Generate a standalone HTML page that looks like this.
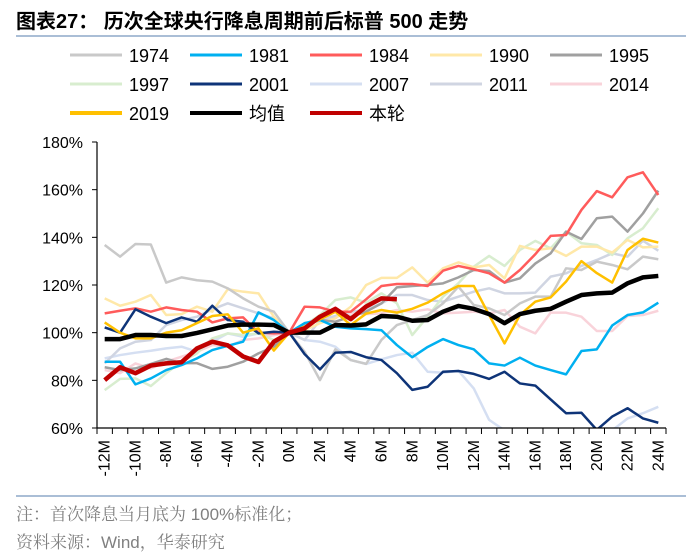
<!DOCTYPE html>
<html><head><meta charset="utf-8"><style>
body{margin:0;background:#fff;width:700px;height:556px;overflow:hidden;font-family:"Liberation Sans","Noto Sans CJK SC",sans-serif}
svg{display:block}
</style></head><body>
<svg id="c" width="700" height="556" xmlns="http://www.w3.org/2000/svg">
<text x="16" y="28" font-size="20" font-weight="bold" fill="#000" font-family="Liberation Sans,Noto Sans CJK SC,sans-serif">图表27：  历次全球央行降息周期前后标普 500 走势</text>
<line x1="16" y1="36" x2="686" y2="36" stroke="#8EA9C8" stroke-width="1.5"/>
<g id="legend"></g>
<g id="plot"></g>
<line x1="16" y1="496" x2="686" y2="496" stroke="#8EA9C8" stroke-width="1.5"/>
<text x="16" y="520" font-size="17" fill="#808080" font-family="Liberation Sans,Noto Serif CJK SC,serif">注：首次降息当月底为 100%标准化；</text>
<text x="16" y="548" font-size="17" fill="#808080" font-family="Liberation Sans,Noto Serif CJK SC,serif">资料来源：Wind，华泰研究</text>
</svg>
<script>
const categories=[-12,-11,-10,-9,-8,-7,-6,-5,-4,-3,-2,-1,0,1,2,3,4,5,6,7,8,9,10,11,12,13,14,15,16,17,18,19,20,21,22,23,24];
const yTicks=[60,80,100,120,140,160,180];
const s1974=[136.8,131.9,137.2,137,121,123.2,122,121.4,118.6,114.4,110.9,108.8,100,92,80.1,93,88.5,86.9,97,103.2,105.3,107.4,112.3,119.3,111.6,110.2,107.4,112.3,115.1,115.1,127,126.3,129.8,128.4,126.6,131.9,130.8];
const s1981=[87.8,87.8,78.3,80.8,84.3,86.4,89.2,92.7,94.5,96.2,108.5,105.3,100,104,105.3,102.5,101.8,101.5,101,94.8,89.7,94,97.3,94.8,93,87.1,86.2,89.5,86.2,84.3,82.5,92.3,93,103,107.4,108.5,112.6];
const s1984=[108.1,109.2,110.2,108.8,110.6,109.5,108.8,104.3,106,106.4,100,99.7,100,110.9,110.6,108.8,108.8,114,119.6,120.4,120.4,119.6,126,128,126.6,124.9,121,126.3,132.9,140.6,141,151.5,159.4,156.8,165.2,167.3,157.8];
const s1990=[114.4,111.3,113,115.8,107.4,107.8,110.9,108.8,118.2,117.2,116.5,106.7,100,101,104,106,110.9,120,123,123,127.4,121,127,129.5,127.4,128.4,122.8,136.4,134.7,135.4,132.2,136.1,136.1,133.6,138.9,135.8,136.1];
const s1995=[85.5,84.3,85,86.9,89,87.2,87.2,84.8,85.7,87.8,91.3,94.1,100,103.9,105.3,104.6,106.7,108.8,112.3,119,119.6,120,120.7,123.2,126.3,125.9,121,122.8,129,133.3,142.4,139.3,148,148.7,142.4,150,159.6];
const s1997=[75.9,80.6,80.8,77.6,83,87.8,91.3,97.6,99.7,99,99.7,96.9,100,103.2,107.4,113.7,114.8,112.6,116.5,112.3,99,106.7,115.1,120.7,127.7,132.2,128,134.7,138.5,135.4,142.4,137.5,136.8,132.6,139.6,143.8,152.2];
const s2001=[102.2,100,109.8,106.7,104,106.4,104.6,111.3,105.3,104.6,99.7,100.4,100,91,84.6,91.6,91.9,89.7,88.5,83,76,77.3,83.6,83.9,82.7,80.6,83.6,78.7,77.8,72,66.2,66.4,59.2,64.8,68.3,64,62.2];
const s2007=[89.2,90.6,91.6,92.4,93.4,94.1,92,96.2,99.7,98.3,99.7,99,100,96.9,96.2,94.1,88.5,86.9,88.8,90.6,91.6,83.6,83.2,84,76.6,63.4,59,55,54,54,55,56,57,59,64,66.2,68.9];
const s2011=[87.1,93.4,96.2,96.9,103.2,105.3,106.7,109.8,112.3,110.2,108.1,106,100,96.9,105.3,107,108.8,109.5,112.3,115.8,115.8,113.7,113,115.1,117.2,118.6,116.5,116.5,116.8,123.5,124.9,128,130.5,133.3,131.9,138.6,134.4];
const s2014=[84.3,83,87.1,85,87.8,89.9,92,94.8,94.1,96.9,97.6,99,100,102.5,106.7,106.7,108.1,107.8,108.1,109.5,108.8,109.8,108.1,108.4,108.8,108.1,109.5,102.5,99.7,108.4,108.4,106.7,100.7,100.7,107,107.4,109.2];
const s2019=[104.3,100,97.6,97.6,100,101,104,107,107.7,100,101.8,92.5,100,102.5,105.6,108.8,103.2,108,109.5,108.4,110,112.6,116.5,119.6,119.6,107.4,95.5,107.4,113,114.8,121.4,130,125,121,134.7,139.4,137.8];
const sAvg=[97.3,97.3,99,99,98.6,98.6,99.9,101.4,103,103.4,103.4,103.2,100,100,100,103.2,103,103.5,107,106.7,105,105.3,108.8,111.2,110,107.8,104,107.8,109.2,110,113,115.8,116.5,116.8,120.7,123.2,123.8];
const sNow=[80.1,85.5,83,86.2,87.1,87.6,93.4,96.2,94.7,90,87.7,96.2,100,101.8,106.7,110,105.7,111,114.4,114];

const series=[
 ['1974',s1974,'#C9C9C9',2.5],['1981',s1981,'#00B0F0',2.5],['1984',s1984,'#FF5B5B',2.5],['1990',s1990,'#FFE8A8',2.5],['1995',s1995,'#A0A0A0',2.5],
 ['1997',s1997,'#D8EDCF',2.5],['2001',s2001,'#0E3478',2.5],['2007',s2007,'#D5DFF2',2.5],['2011',s2011,'#D0D5E2',2.5],['2014',s2014,'#F9D3DA',2.5],
 ['2019',s2019,'#FFC000',2.5],['均值',sAvg,'#000000',4.5],['本轮',sNow,'#C00000',4.5]];
const drawOrder=[7,9,8,5,3,0,4,1,2,6,10,11,12];
const NS='http://www.w3.org/2000/svg';
const X0=97,X1=666,Y0=428,Y1=142;
const step=(X1-X0)/categories.length;
const xs=i=>X0+step*(i+0.5);
const ys=v=>Y0-(v-60)/(180-60)*(Y0-Y1);
function mk(t,a,p){const e=document.createElementNS(NS,t);for(const k in a)e.setAttribute(k,a[k]);p.appendChild(e);return e;}
const plot=document.getElementById('plot');
const defs=mk('defs',{},plot);
const cp=mk('clipPath',{id:'clip'},defs);
mk('rect',{x:X0,y:Y1-10,width:X1-X0+5,height:Y0-Y1+10},cp);
const lines=mk('g',{'clip-path':'url(#clip)'},plot);
drawOrder.forEach(k=>{
 const [name,vals,col,w]=series[k];
 const p=mk('polyline',{points:vals.map((v,i)=>xs(i)+','+ys(v)).join(' '),fill:'none',stroke:col,'stroke-width':w,'stroke-linejoin':'round'},lines);
 
 
});
const ax=mk('g',{},plot);


mk('line',{x1:X0,y1:Y1,x2:X0,y2:Y0,stroke:'#000','stroke-width':1.2},ax);
mk('line',{x1:X0,y1:Y0,x2:X1,y2:Y0,stroke:'#000','stroke-width':1.2},ax);
yTicks.forEach(v=>{
 mk('line',{x1:X0-5,y1:ys(v),x2:X0,y2:ys(v),stroke:'#000','stroke-width':1},ax);
 const t=mk('text',{x:X0-14,y:ys(v)+6,'font-size':16,'text-anchor':'end',fill:'#000'},ax);
 t.textContent=v+'%';
 
 
});
for(let i=0;i<=categories.length;i++)mk('line',{x1:X0+step*i,y1:Y0,x2:X0+step*i,y2:Y0+6,stroke:'#000','stroke-width':1},ax);
categories.forEach((c,i)=>{
 if(c%2!==0)return;
 const x=xs(i)+5,y=440;
 const t=mk('text',{x:x,y:y,'font-size':16,'text-anchor':'end',fill:'#000',transform:'rotate(-90 '+x+' '+y+')'},ax);
 t.textContent=c+'M';
 
 
});
const lg=document.getElementById('legend');
const colX=[70,190,310,430,550],rowY=[55,84,113];
series.forEach((s,k)=>{
 const cx=colX[k%5],cy=rowY[Math.floor(k/5)];
 const g=mk('g',{},lg);
 
 
 mk('line',{x1:cx,y1:cy,x2:cx+52,y2:cy,stroke:s[2],'stroke-width':k>=10?4:3},g);
 const t=mk('text',{x:cx+59,y:cy+7,'font-size':18,fill:'#000'},g);
 t.textContent=s[0];
});
</script>
</body></html>
